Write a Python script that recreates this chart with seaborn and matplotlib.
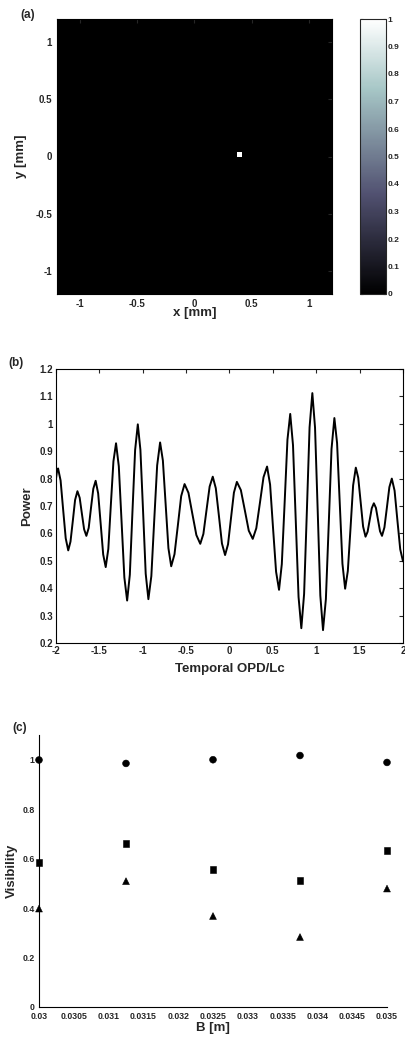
import numpy as np
import pandas as pd
import matplotlib
matplotlib.use("Agg")
import matplotlib.pyplot as plt
from matplotlib.ticker import FuncFormatter
import seaborn as sns

# ---------------- data ----------------
# (a) spot image
grid_n = 64
extent_mm = 1.2
spot_x = 0.41
spot_y = 0.02
spot_value = 1.0
cbar_ticks = [0, 0.1, 0.2, 0.3, 0.4, 0.5, 0.6, 0.7, 0.8, 0.9, 1]

# (b) power vs temporal OPD/Lc
opd = [-2.000, -1.988, -1.976, -1.947, -1.918, -1.888, -1.859, -1.833, -1.806, -1.780,
       -1.753, -1.727, -1.702, -1.676, -1.650, -1.623, -1.597, -1.570, -1.543, -1.514,
       -1.485, -1.456, -1.427, -1.397, -1.368, -1.338, -1.308, -1.276, -1.244, -1.212,
       -1.180, -1.149, -1.119, -1.088, -1.057, -1.027, -0.996, -0.966, -0.935, -0.901,
       -0.868, -0.834, -0.800, -0.768, -0.736, -0.704, -0.672, -0.634, -0.595, -0.557,
       -0.518, -0.473, -0.428, -0.382, -0.337, -0.301, -0.265, -0.229, -0.193, -0.158,
       -0.122, -0.087, -0.051, -0.017, 0.017, 0.051, 0.085, 0.131, 0.177, 0.222,
       0.268, 0.309, 0.351, 0.392, 0.433, 0.468, 0.502, 0.537, 0.571, 0.603,
       0.636, 0.668, 0.700, 0.732, 0.764, 0.796, 0.828, 0.860, 0.892, 0.923,
       0.955, 0.986, 1.017, 1.047, 1.078, 1.111, 1.144, 1.176, 1.209, 1.240,
       1.271, 1.302, 1.333, 1.364, 1.395, 1.425, 1.456, 1.484, 1.512, 1.540,
       1.568, 1.592, 1.616, 1.640, 1.664, 1.688, 1.711, 1.735, 1.758, 1.786,
       1.815, 1.843, 1.871, 1.903, 1.935, 1.968, 2.000]
power = [0.800, 0.828, 0.837, 0.793, 0.688, 0.582, 0.538, 0.570, 0.646, 0.722,
         0.754, 0.730, 0.673, 0.615, 0.591, 0.620, 0.692, 0.763, 0.792, 0.746,
         0.635, 0.523, 0.477, 0.543, 0.703, 0.863, 0.929, 0.845, 0.642, 0.439,
         0.355, 0.449, 0.677, 0.904, 0.998, 0.905, 0.679, 0.453, 0.360, 0.444,
         0.646, 0.848, 0.932, 0.866, 0.706, 0.546, 0.480, 0.524, 0.630, 0.736,
         0.780, 0.748, 0.671, 0.594, 0.562, 0.598, 0.685, 0.771, 0.807, 0.765,
         0.664, 0.563, 0.521, 0.560, 0.655, 0.749, 0.788, 0.758, 0.684, 0.610,
         0.580, 0.619, 0.712, 0.805, 0.844, 0.778, 0.619, 0.460, 0.394, 0.488,
         0.715, 0.942, 1.036, 0.922, 0.645, 0.368, 0.254, 0.379, 0.683, 0.987,
         1.112, 0.986, 0.680, 0.373, 0.247, 0.360, 0.634, 0.908, 1.021, 0.930,
         0.710, 0.489, 0.398, 0.463, 0.619, 0.775, 0.840, 0.803, 0.714, 0.625,
         0.588, 0.606, 0.649, 0.692, 0.710, 0.693, 0.651, 0.608, 0.591, 0.622,
         0.696, 0.769, 0.800, 0.756, 0.649, 0.542, 0.498]

# (c) visibility vs baseline
baseline_m = [0.03, 0.03125, 0.0325, 0.03375, 0.035]
vis_circle = [0.999, 0.985, 1.000, 1.017, 0.989]
vis_square = [0.583, 0.661, 0.556, 0.513, 0.634]
vis_triangle = [0.398, 0.509, 0.368, 0.283, 0.479]

# ---------------- style ----------------
sns.set_style("white")
plt.rcParams["font.family"] = ["Liberation Sans", "DejaVu Sans"]
plt.rcParams["font.weight"] = "bold"
plt.rcParams["axes.labelweight"] = "bold"
plt.rcParams["xtick.direction"] = "in"
plt.rcParams["ytick.direction"] = "in"
plt.rcParams["lines.solid_joinstyle"] = "round"

W, H = 406, 1041
fig = plt.figure(figsize=(W / 100, H / 100), dpi=100)


def fr(l, t, r, b):
    return [l / W, (H - b) / H, (r - l) / W, (b - t) / H]


tick_fs = 7
label_fs = 9.5
gfmt = FuncFormatter(lambda v, p: "%g" % round(v, 6))

# ---------------- (a) ----------------
axa = fig.add_axes(fr(57, 19, 332, 294))
img = np.zeros((grid_n, grid_n))
cell = 2 * extent_mm / grid_n
ix = int((spot_x + extent_mm) / cell)
iy = int((spot_y + extent_mm) / cell)
img[iy, ix] = spot_value
im = axa.imshow(img, cmap="bone", vmin=0, vmax=1, origin="lower",
                extent=[-extent_mm, extent_mm, -extent_mm, extent_mm],
                interpolation="nearest", aspect="auto")
axa.set_xticks([-1, -0.5, 0, 0.5, 1])
axa.set_yticks([-1, -0.5, 0, 0.5, 1])
axa.xaxis.set_major_formatter(gfmt)
axa.yaxis.set_major_formatter(gfmt)
axa.tick_params(labelsize=tick_fs, top=True, right=True, length=3)
for lab in axa.get_xticklabels() + axa.get_yticklabels():
    lab.set_fontweight("bold")
axa.set_xlabel("x [mm]", fontsize=label_fs, fontweight="bold", labelpad=-1)
axa.set_ylabel("y [mm]", fontsize=label_fs, fontweight="bold", labelpad=6)
for s in axa.spines.values():
    s.set_color("black")
fig.text(28 / W, 1 - 15 / H, "(a)", fontsize=8.5, fontweight="bold",
         ha="center", va="center")

cax = fig.add_axes(fr(360, 19, 386, 294))
cb = fig.colorbar(im, cax=cax, ticks=cbar_ticks)
cb.ax.yaxis.set_major_formatter(gfmt)
cb.ax.tick_params(labelsize=6, direction="in", left=True, right=True,
                  length=2, pad=1)
for lab in cb.ax.get_yticklabels():
    lab.set_fontweight("bold")
cb.outline.set_linewidth(0.8)

# ---------------- (b) ----------------
axb = fig.add_axes(fr(56, 369, 403, 643))
dfb = pd.DataFrame({"opd": opd, "power": power})
sns.lineplot(data=dfb, x="opd", y="power", ax=axb, color="black",
             linewidth=1.4, sort=False)
axb.set_xlim(-2, 2)
axb.set_ylim(0.2, 1.2)
axb.set_xticks(np.arange(-2, 2.01, 0.5))
axb.set_yticks(np.arange(0.2, 1.21, 0.1))
axb.xaxis.set_major_formatter(gfmt)
axb.yaxis.set_major_formatter(gfmt)
axb.tick_params(labelsize=tick_fs, top=True, right=True, length=3, pad=2)
for lab in axb.get_xticklabels() + axb.get_yticklabels():
    lab.set_fontweight("bold")
axb.set_xlabel("Temporal OPD/Lc", fontsize=label_fs, fontweight="bold", labelpad=5)
axb.set_ylabel("Power", fontsize=label_fs, fontweight="bold", labelpad=5)
for s in axb.spines.values():
    s.set_color("black")
    s.set_linewidth(0.8)
fig.text(16 / W, 1 - 363 / H, "(b)", fontsize=8.5, fontweight="bold",
         ha="center", va="center")

# ---------------- (c) ----------------
axc = fig.add_axes(fr(39, 735, 387, 1007))
dfc = pd.DataFrame({
    "B": baseline_m * 3,
    "Visibility": vis_circle + vis_square + vis_triangle,
    "kind": ["circle"] * 5 + ["square"] * 5 + ["triangle"] * 5,
})
sns.scatterplot(data=dfc, x="B", y="Visibility", style="kind", ax=axc,
                markers={"circle": "o", "square": "s", "triangle": "^"},
                color="black", edgecolor="black", s=24, legend=False,
                clip_on=False, zorder=5)
axc.set_xlim(0.03, 0.035)
axc.set_ylim(0, 1.1)
axc.set_xticks(np.arange(0.03, 0.03501, 0.0005))
axc.set_yticks([0, 0.2, 0.4, 0.6, 0.8, 1])
axc.xaxis.set_major_formatter(gfmt)
axc.yaxis.set_major_formatter(gfmt)
axc.tick_params(axis="x", labelsize=6.3, length=3, pad=3.5)
axc.tick_params(axis="y", labelsize=6.3, length=3, pad=3)
for lab in axc.get_xticklabels() + axc.get_yticklabels():
    lab.set_fontweight("bold")
axc.spines["top"].set_visible(False)
axc.spines["right"].set_visible(False)
for s in ("left", "bottom"):
    axc.spines[s].set_color("black")
    axc.spines[s].set_linewidth(0.8)
axc.set_xlabel("B [m]", fontsize=label_fs, fontweight="bold", labelpad=1)
axc.set_ylabel("Visibility", fontsize=label_fs, fontweight="bold", labelpad=3)
fig.text(20 / W, 1 - 728 / H, "(c)", fontsize=8.5, fontweight="bold",
         ha="center", va="center")

fig.savefig("out.png", dpi=100, facecolor="white")
